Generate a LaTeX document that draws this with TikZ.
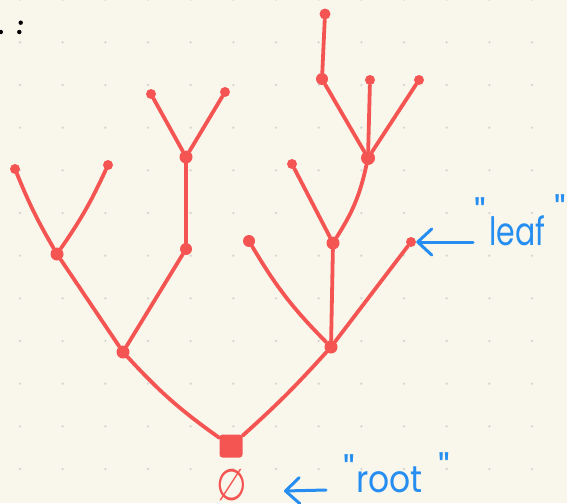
\documentclass[tikz,border=0pt]{standalone}
\usepackage{fontspec}
\newfontfamily\hand{Poppins}
\newfontfamily\symb{DejaVu Sans}
\usetikzlibrary{arrows.meta}
\definecolor{paper}{RGB}{249,247,236}
\definecolor{gridc}{RGB}{214,214,214}
\definecolor{treered}{RGB}{244,85,83}
\definecolor{noteblue}{RGB}{38,142,240}
\tikzset{
  branch/.style={draw=treered,line width=3.8pt,line cap=round},
  fork/.style={circle,fill=treered,minimum size=13pt,inner sep=0pt},
  tip/.style={circle,fill=treered,minimum size=10pt,inner sep=0pt},
  rootbox/.style={rectangle,rounded corners=3pt,fill=treered,minimum size=23pt,inner sep=0pt},
  pointer/.style={draw=noteblue,line width=3pt,line cap=round,
    -{Straight Barb[length=14pt,width=26pt,round]}},
  note/.style={text=noteblue,font=\hand\fontsize{30}{30}\selectfont,inner sep=0pt},
  quote/.style={text=noteblue,font=\hand\fontsize{40}{40}\selectfont,inner sep=0pt},
}
\begin{document}
\begin{tikzpicture}[x=1pt,y=-1pt]
  % paper and dot grid
  \fill[paper] (0,0) rectangle (567,503);
  \useasboundingbox (0,0) rectangle (567,503);
  \foreach \i in {0,...,12}
    \foreach \j in {-1,...,10}
      \fill[gridc] ({20+42.67*\i},{42.3+42.67*\j}) circle (1.3);

  % stray punctuation at the top edge
  \fill[black] (0.8,32) circle (2.2);
  \fill[black] (20.7,22.7) circle (2.2);
  \fill[black] (19.3,32) circle (2.2);

  % tree vertices
  \node[rootbox] (r) at (231,446) {};
  \node[fork] (a) at (123,352) {};
  \node[fork] (b) at (57,254) {};
  \node[tip]  (b1) at (15,169) {};
  \node[tip]  (b2) at (108,165) {};
  \node[fork, minimum size=12pt] (c) at (186,249) {};
  \node[fork] (d) at (186,157) {};
  \node[tip]  (d1) at (151,94) {};
  \node[tip]  (d2) at (225,92) {};
  \node[fork] (e) at (331,347) {};
  \node[tip, minimum size=12pt] (e1) at (249,241) {};
  \node[tip]  (e2) at (411,242) {};
  \node[fork] (f) at (333,243) {};
  \node[tip]  (f1) at (292,164) {};
  \node[fork, minimum size=14pt] (g) at (368,158) {};
  \node[fork, minimum size=12pt] (h) at (322,79) {};
  \node[tip]  (g2) at (370,80) {};
  \node[tip]  (g3) at (419,80) {};
  \node[tip, minimum size=11pt]  (h1) at (325,14) {};

  % branches
  \draw[branch] (r) to[bend left=6] (a);
  \draw[branch] (r) to[bend right=3] (e);
  \draw[branch] (a) -- (b);
  \draw[branch] (a) -- (c);
  \draw[branch] (b) to[bend left=4] (b1);
  \draw[branch] (b) to[bend right=5] (b2);
  \draw[branch] (c) -- (d);
  \draw[branch] (d) -- (d1);
  \draw[branch] (d) -- (d2);
  \draw[branch] (e) to[bend left=7] (e1);
  \draw[branch] (e) -- (e2);
  \draw[branch] (e) -- (f);
  \draw[branch] (f) -- (f1);
  \draw[branch] (f) to[bend right=10] (g);
  \draw[branch] (g) -- (h);
  \draw[branch] (g) -- (g2);
  \draw[branch] (g) -- (g3);
  \draw[branch] (h) -- (h1);

  % empty-word label under the root
  \node[text=treered, inner sep=0pt, font=\symb\fontsize{44}{44}\selectfont]
    (empty) at (232,485) {\scalebox{0.8}[1]{∅}};

  % annotations
  \coordinate (leafstart) at (473,242);
  \draw[pointer] (leafstart) -- (e2);
  \node[quote, anchor=north] (lq1) at (480,197) {"};
  \node[note, anchor=base west] (leaf) at (489,245) {\scalebox{1}[1.3]{leaf}};
  \node[quote, anchor=north] (lq2) at (560,194) {"};

  \coordinate (rootstart) at (326,490);
  \coordinate (roottip) at (284,491);
  \draw[pointer] (rootstart) -- (roottip);
  \node[quote, anchor=north] (rq1) at (349,454) {"};
  \node[note, anchor=base west] (rootlbl) at (356,492) {\scalebox{1.1}[1.25]{root}};
  \node[quote, anchor=north] (rq2) at (444,452) {"};
\end{tikzpicture}
\end{document}
